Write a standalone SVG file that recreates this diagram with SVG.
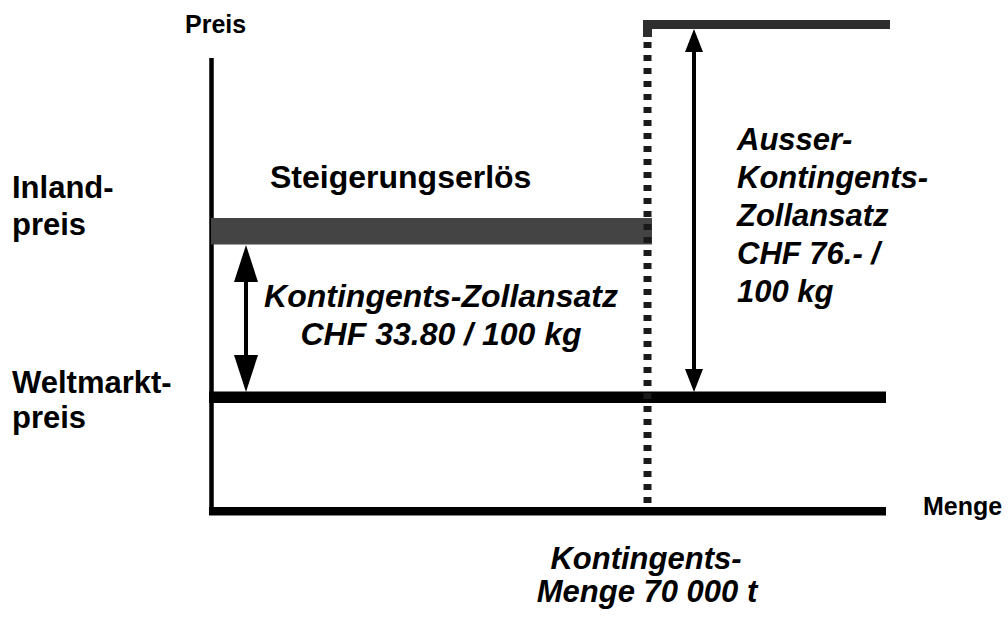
<svg xmlns="http://www.w3.org/2000/svg" width="1008" height="617" viewBox="0 0 1008 617">
<style>
text{font-family:"Liberation Sans",Arial,sans-serif;font-weight:bold;fill:#000}
.big{font-size:31px}
.big2{font-size:32px}
.small{font-size:25px}
.it{font-style:italic}
.mid{text-anchor:middle}
.shaft{stroke:#000;stroke-width:4;fill:none}
</style>
<defs>
<marker id="headS" viewBox="0 0 23 18" refX="0" refY="9" markerWidth="23" markerHeight="18" markerUnits="userSpaceOnUse" orient="auto-start-reverse">
<path d="M0,0 L23,9 L0,18 z" fill="#000"/>
</marker>
<marker id="headL" viewBox="0 0 37 24" refX="0" refY="12" markerWidth="37" markerHeight="24" markerUnits="userSpaceOnUse" orient="auto-start-reverse">
<path d="M0,0 L37,12 L0,24 z" fill="#000"/>
</marker>
</defs>
<rect width="1008" height="617" fill="#fff"/>
<g id="axes">
<line x1="211.5" y1="58" x2="211.5" y2="515" stroke="#000" stroke-width="4.5"/>
<rect x="209" y="507" width="677" height="8.5" fill="#000"/>
<text class="small" x="185" y="33">Preis</text>
<text class="small" x="923" y="515">Menge</text>
</g>
<g id="weltmarkt">
<rect x="209" y="391.5" width="677" height="11.5" fill="#000"/>
<text class="big" x="12" y="393">Weltmarkt-</text>
<text class="big" x="12" y="428">preis</text>
</g>
<g id="inland">
<rect x="211" y="218" width="441" height="26.5" fill="#444"/>
<text class="big" x="12" y="198">Inland-</text>
<text class="big" x="12" y="235">preis</text>
<text class="big2" x="270" y="188">Steigerungserlös</text>
</g>
<g id="ausser">
<rect x="643" y="20" width="247" height="9" fill="#2e2e2e"/>
<rect x="643" y="20" width="9" height="17" fill="#2e2e2e"/>
</g>
<g id="kontingent">
<line x1="647.5" y1="42" x2="647.5" y2="507" stroke="#1a1a1a" stroke-width="8" stroke-dasharray="6 7"/>
<text class="big it mid" x="646" y="569">Kontingents-</text>
<text class="big it mid" x="647" y="602">Menge 70 000 t</text>
</g>
<g id="connectors">
<line class="shaft" x1="246" y1="282" x2="246" y2="355" marker-start="url(#headL)" marker-end="url(#headL)"/>
<line class="shaft" x1="694" y1="52" x2="694" y2="369" marker-start="url(#headS)" marker-end="url(#headS)"/>
</g>
<g id="label-kontingent">
<text class="big2 it mid" x="441" y="307">Kontingents-Zollansatz</text>
<text class="big2 it mid" x="441" y="345">CHF 33.80 / 100 kg</text>
</g>
<g id="label-ausser">
<text class="big it" x="737" y="150">Ausser-</text>
<text class="big it" x="737" y="188">Kontingents-</text>
<text class="big it" x="737" y="226">Zollansatz</text>
<text class="big it" x="737" y="264">CHF 76.- /</text>
<text class="big it" x="737" y="302">100 kg</text>
</g>
</svg>
